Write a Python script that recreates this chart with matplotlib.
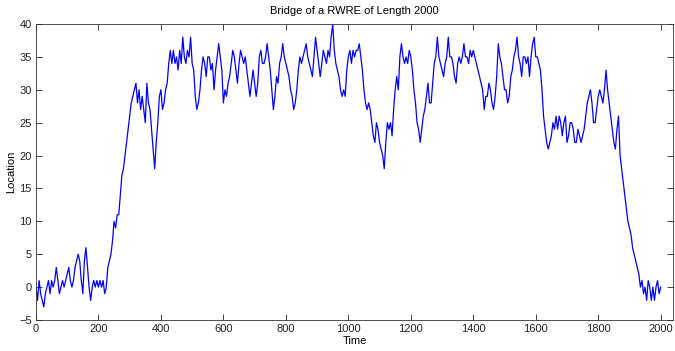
import matplotlib
matplotlib.use("Agg")
import matplotlib.pyplot as plt
import numpy as np

plt.rcParams['font.family'] = ['Liberation Sans Narrow', 'Liberation Sans', 'DejaVu Sans']

# position of the walk, read every 5 time steps (one row = 100 steps)
location = [
    0, -2, 1, -1, -2, -3, -1, 0, 1, -1, 1, 0, 1, 3, 1, -1, 0, 1, 0, 1,
    2, 3, 1, 0, 1, 3, 4, 5, 4, 1, -1, 4, 6, 3, 0, -2, 0, 1, 0, 1,
    0, 1, 0, 1, -1, 0, 3, 4, 5, 7, 10, 9, 11, 11, 14, 17, 18, 20, 22, 24,
    26, 28, 29, 30, 31, 28, 30, 27, 29, 27, 25, 31, 28, 27, 24, 21, 18, 22, 25, 29,
    30, 27, 28, 30, 31, 34, 36, 34, 36, 34, 35, 33, 36, 34, 38, 35, 34, 36, 35, 38,
    34, 33, 29, 27, 28, 30, 33, 35, 34, 32, 35, 35, 33, 34, 30, 33, 35, 37, 35, 33,
    28, 30, 29, 31, 32, 34, 36, 35, 33, 31, 34, 36, 35, 34, 35, 33, 31, 29, 31, 33,
    31, 29, 31, 35, 36, 34, 34, 35, 37, 35, 33, 30, 27, 29, 32, 31, 34, 35, 37, 35,
    34, 33, 32, 30, 29, 27, 28, 30, 33, 35, 34, 35, 36, 37, 35, 34, 33, 32, 35, 38,
    36, 34, 32, 34, 36, 35, 34, 36, 35, 38, 40, 36, 34, 33, 32, 30, 29, 30, 29, 33,
    35, 36, 34, 36, 35, 36, 36, 37, 35, 33, 30, 28, 27, 28, 27, 25, 23, 22, 25, 24,
    22, 21, 20, 18, 22, 25, 24, 25, 23, 27, 30, 32, 30, 35, 37, 35, 34, 35, 34, 36,
    35, 33, 30, 28, 25, 24, 22, 24, 26, 27, 29, 31, 28, 28, 31, 34, 35, 38, 35, 34,
    33, 32, 34, 35, 38, 35, 35, 34, 32, 31, 34, 35, 34, 35, 37, 35, 35, 34, 36, 35,
    36, 35, 34, 33, 32, 31, 30, 27, 29, 29, 31, 30, 28, 27, 29, 32, 37, 35, 34, 32,
    30, 30, 28, 29, 32, 33, 35, 36, 38, 35, 34, 32, 35, 35, 34, 35, 32, 35, 37, 38,
    35, 35, 34, 33, 30, 26, 24, 22, 21, 22, 23, 25, 24, 26, 24, 26, 25, 23, 25, 26,
    22, 23, 25, 25, 24, 22, 22, 24, 23, 22, 23, 24, 26, 28, 29, 30, 28, 25, 25, 27,
    29, 30, 29, 28, 30, 33, 30, 28, 26, 24, 22, 21, 24, 26, 20, 18, 16, 14, 12, 10,
    9, 8, 6, 5, 4, 3, 2, 0, 1, -1, 0, -2, 1, 0, -2, 0, -2, 0, 1, -1,
    0,
]
time = np.arange(0, 2001, 5)

fig = plt.figure(figsize=(6.75, 3.51), dpi=100)
ax = fig.add_axes([0.0533, 0.0883, 0.944, 0.8433])
ax.plot(time, location, color=(0, 0, 1), linewidth=0.9)

ax.set_xlim(0, 2040)
ax.set_ylim(-5, 40)
ax.set_xticks(np.arange(0, 2001, 200))
ax.set_yticks(np.arange(-5, 41, 5))
ax.tick_params(direction='in', top=True, right=True, labelsize=8, length=4,
               width=0.6, colors='#222222', pad=3)
for s in ax.spines.values():
    s.set_linewidth(0.6)
    s.set_color('#333333')

ax.set_title('Bridge of a RWRE of Length 2000', fontsize=8, pad=7)
ax.set_xlabel('Time', fontsize=8, labelpad=1)
ax.set_ylabel('Location', fontsize=8, labelpad=2)

fig.savefig('out.png', dpi=100)
